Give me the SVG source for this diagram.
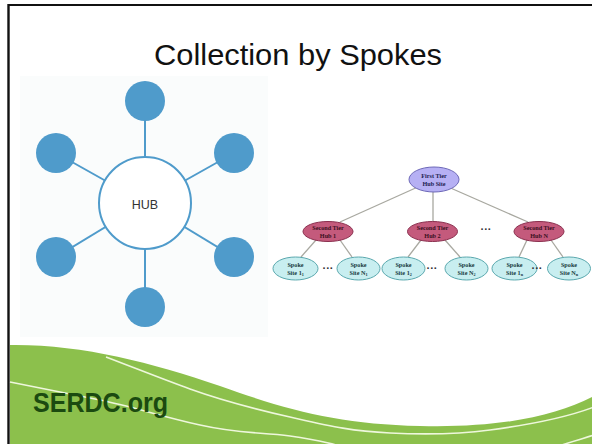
<svg xmlns="http://www.w3.org/2000/svg" width="592" height="444" viewBox="0 0 592 444">
<defs>
<style>
.spoke{fill:#4f9bcb}
.hubln{stroke:#4f9bcb;stroke-width:2;fill:none}
.tline{stroke:#a8a8a0;stroke-width:1.3;fill:none}
.t1{fill:#b6b0f4;stroke:#6d68b8;stroke-width:1}
.t2{fill:#c45a7c;stroke:#8a2f4e;stroke-width:1}
.t3{fill:#c8eef0;stroke:#5aa8ae;stroke-width:1}
.lbl{font-family:"Liberation Serif",serif;font-weight:bold;font-size:6.2px;text-anchor:middle}
.dots{font-family:"Liberation Sans",sans-serif;font-weight:bold;font-size:11px;fill:#333;text-anchor:middle}
.wl{stroke:#eef7dc;stroke-width:1.6;fill:none}
</style>
</defs>
<rect width="592" height="444" fill="#ffffff"/>
<!-- frame -->
<line x1="8.5" y1="5" x2="592" y2="5" stroke="#111" stroke-width="2.2"/>
<line x1="8.5" y1="4" x2="8.5" y2="444" stroke="#111" stroke-width="2.4"/>
<!-- title -->
<text x="298" y="65" font-family="Liberation Sans, Arial, sans-serif" font-size="30" fill="#111" text-anchor="middle" textLength="288" lengthAdjust="spacingAndGlyphs">Collection by Spokes</text>
<!-- left panel -->
<rect x="20" y="76" width="248" height="261" fill="#fafcfc"/>
<g id="hub-connectors">
<line class="hubln" x1="145" y1="203" x2="145" y2="101"/>
<line class="hubln" x1="145" y1="203" x2="145" y2="307"/>
<line class="hubln" x1="145" y1="203" x2="56" y2="153"/>
<line class="hubln" x1="145" y1="203" x2="234" y2="153"/>
<line class="hubln" x1="145" y1="203" x2="56" y2="257"/>
<line class="hubln" x1="145" y1="203" x2="234" y2="257"/>
</g>
<g id="hub"><circle cx="145" cy="203" r="46" fill="#ffffff" stroke="#4f9bcb" stroke-width="2"/>
<text x="145" y="209" font-family="Liberation Sans, Arial, sans-serif" font-size="12.5" fill="#333" text-anchor="middle">HUB</text></g>
<g id="spoke-top"><circle class="spoke" cx="145" cy="101" r="20"/></g>
<g id="spoke-bottom"><circle class="spoke" cx="145" cy="307" r="20"/></g>
<g id="spoke-ul"><circle class="spoke" cx="56" cy="153" r="20"/></g>
<g id="spoke-ur"><circle class="spoke" cx="234" cy="153" r="20"/></g>
<g id="spoke-ll"><circle class="spoke" cx="56" cy="257" r="20"/></g>
<g id="spoke-lr"><circle class="spoke" cx="234" cy="257" r="20"/></g>
<!-- right tree -->
<g id="tree-connectors">
<line class="tline" x1="420" y1="186" x2="340" y2="222"/>
<line class="tline" x1="433" y1="192" x2="433" y2="222"/>
<line class="tline" x1="446" y1="186" x2="528" y2="222"/>
<line class="tline" x1="316" y1="240" x2="301" y2="257"/>
<line class="tline" x1="340" y1="240" x2="352" y2="257"/>
<line class="tline" x1="421" y1="240" x2="408" y2="257"/>
<line class="tline" x1="445" y1="240" x2="460" y2="257"/>
<line class="tline" x1="527" y1="240" x2="519" y2="257"/>
<line class="tline" x1="551" y1="240" x2="563" y2="257"/>
</g>
<g id="first-tier"><ellipse class="t1" cx="434" cy="179.5" rx="25" ry="12.5"/>
<text class="lbl" fill="#1c1c50"><tspan x="434" y="178">First Tier</tspan><tspan x="434" y="185.5">Hub Site</tspan></text></g>
<g id="hub-1"><ellipse class="t2" cx="328" cy="231.5" rx="25" ry="10"/>
<text class="lbl" fill="#3a0f1e"><tspan x="328" y="230">Second Tier</tspan><tspan x="328" y="237.5">Hub 1</tspan></text></g>
<g id="hub-2"><ellipse class="t2" cx="432.5" cy="231.5" rx="25" ry="10"/>
<text class="lbl" fill="#3a0f1e"><tspan x="432.5" y="230">Second Tier</tspan><tspan x="432.5" y="237.5">Hub 2</tspan></text></g>
<g id="hub-n"><ellipse class="t2" cx="539" cy="231.5" rx="25" ry="10"/>
<text class="lbl" fill="#3a0f1e"><tspan x="539" y="230">Second Tier</tspan><tspan x="539" y="237.5">Hub N</tspan></text></g>
<text class="dots" x="486" y="233">···</text>
<g id="site-1-1"><ellipse class="t3" cx="295.5" cy="268.5" rx="22.5" ry="11.5"/>
<text class="lbl" fill="#173a40"><tspan x="295.5" y="267">Spoke</tspan><tspan x="295.5" y="274.5">Site 1<tspan font-size="4.2" dy="1">1</tspan></tspan></text></g>
<g id="site-n-1"><ellipse class="t3" cx="358.5" cy="268.5" rx="21.5" ry="11.5"/>
<text class="lbl" fill="#173a40"><tspan x="358.5" y="267">Spoke</tspan><tspan x="358.5" y="274.5">Site N<tspan font-size="4.2" dy="1">1</tspan></tspan></text></g>
<g id="site-1-2"><ellipse class="t3" cx="403.5" cy="268.5" rx="21.5" ry="11.5"/>
<text class="lbl" fill="#173a40"><tspan x="403.5" y="267">Spoke</tspan><tspan x="403.5" y="274.5">Site 1<tspan font-size="4.2" dy="1">2</tspan></tspan></text></g>
<g id="site-n-2"><ellipse class="t3" cx="466.5" cy="268.5" rx="21.5" ry="11.5"/>
<text class="lbl" fill="#173a40"><tspan x="466.5" y="267">Spoke</tspan><tspan x="466.5" y="274.5">Site N<tspan font-size="4.2" dy="1">2</tspan></tspan></text></g>
<g id="site-1-n"><ellipse class="t3" cx="514.5" cy="268.5" rx="22.5" ry="11.5"/>
<text class="lbl" fill="#173a40"><tspan x="514.5" y="267">Spoke</tspan><tspan x="514.5" y="274.5">Site 1<tspan font-size="4.2" dy="1">n</tspan></tspan></text></g>
<g id="site-n-n"><ellipse class="t3" cx="569" cy="268.5" rx="21.5" ry="11.5"/>
<text class="lbl" fill="#173a40"><tspan x="569" y="267">Spoke</tspan><tspan x="569" y="274.5">Site N<tspan font-size="4.2" dy="1">n</tspan></tspan></text></g>
<text class="dots" x="328" y="271.5">···</text>
<text class="dots" x="432" y="271.5">···</text>
<text class="dots" x="537" y="271.5">···</text>
<!-- green footer -->
<path d="M10,345 C80,344 150,362 220,386 C290,411 340,424 420,426 C500,428 555,416 592,397 L592,444 L10,444 Z" fill="#8cc04c"/>
<path class="wl" d="M106,357 C140,370 165,380 190,389 S250,408 290,417 S350,431 390,433 S460,434 490,430 S560,420 594,407"/>
<path class="wl" d="M10,382 C40,388 70,394 100,400 S160,416 200,425 S260,432 290,436 S322,442 345,447"/>
<path class="wl" d="M556,447 C570,442 582,439 594,435"/>
<text x="33" y="412" font-family="Liberation Sans, Arial, sans-serif" font-weight="bold" font-size="28" fill="#1b4a10" textLength="135" lengthAdjust="spacingAndGlyphs">SERDC.org</text>
</svg>
